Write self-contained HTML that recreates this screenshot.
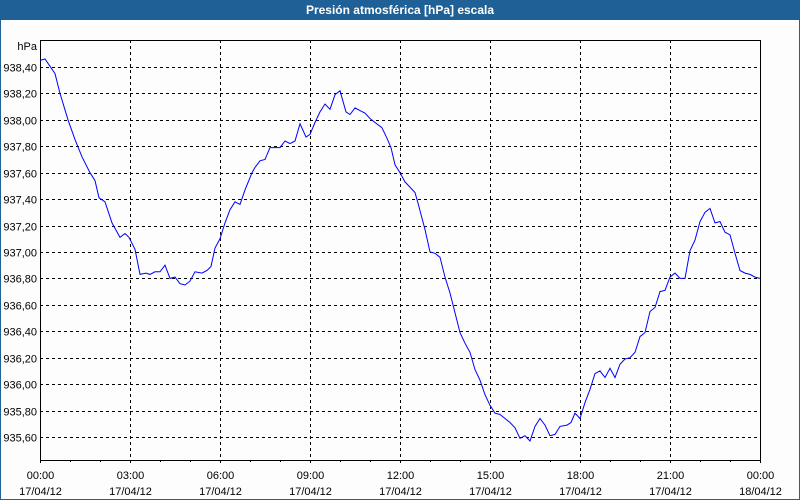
<!DOCTYPE html>
<html><head><meta charset="utf-8"><style>
html,body{margin:0;padding:0;}
body{width:800px;height:500px;overflow:hidden;background:#fcfdfc;font-family:"Liberation Sans",sans-serif;}
#wrap{position:absolute;left:0;top:0;width:798px;height:499px;border:1px solid #1f6196;border-top:none;background:#fcfdfc;}
#title{position:absolute;left:0;top:0;width:800px;height:20px;background:#1f6196;color:#fff;font-weight:bold;font-size:12px;line-height:20px;text-align:center;}
svg{position:absolute;left:0;top:0;}
</style></head><body>
<div id="wrap"></div>
<div id="title">Presión atmosférica [hPa] escala</div>
<svg id="chart" width="800" height="500"></svg>
<script>
const times=[0,10,30,40,56,70,84,100,110,118,130,144,160,170,178,190,200,212,220,230,240,250,260,270,280,290,300,310,324,334,342,350,360,370,380,390,400,410,424,430,440,450,460,480,490,500,510,520,532,540,550,560,570,580,590,600,612,620,630,640,650,660,670,684,694,702,710,720,730,750,756,770,780,790,800,810,820,830,840,850,860,870,880,890,900,910,920,930,940,950,960,970,980,990,1000,1010,1020,1030,1040,1054,1062,1070,1080,1090,1100,1110,1120,1130,1140,1150,1160,1170,1180,1190,1200,1210,1220,1230,1240,1250,1260,1270,1280,1290,1300,1310,1320,1330,1340,1350,1360,1370,1380,1390,1400,1410,1420,1430,1440];
const values=[938.45,938.46,938.35,938.20,938.00,937.85,937.72,937.60,937.54,937.41,937.38,937.22,937.11,937.14,937.11,937.02,936.83,936.84,936.83,936.85,936.85,936.90,936.80,936.81,936.76,936.75,936.78,936.85,936.84,936.86,936.89,937.03,937.10,937.22,937.32,937.38,937.36,937.47,937.60,937.64,937.69,937.70,937.79,937.79,937.84,937.82,937.84,937.97,937.87,937.89,937.98,938.06,938.12,938.08,938.19,938.22,938.06,938.04,938.09,938.07,938.05,938.01,937.98,937.94,937.86,937.79,937.66,937.60,937.53,937.45,937.37,937.17,937.00,936.99,936.96,936.81,936.69,936.54,936.39,936.31,936.24,936.11,936.03,935.92,935.84,935.78,935.77,935.74,935.71,935.67,935.59,935.61,935.57,935.68,935.74,935.69,935.61,935.62,935.68,935.69,935.71,935.78,935.74,935.86,935.96,936.08,936.10,936.05,936.12,936.05,936.15,936.19,936.20,936.24,936.36,936.39,936.55,936.58,936.70,936.71,936.81,936.84,936.80,936.80,937.01,937.09,937.23,937.30,937.33,937.22,937.23,937.15,937.13,936.99,936.86,936.84,936.83,936.81,936.80];
const yTicks=[938.40,938.20,938.00,937.80,937.60,937.40,937.20,937.00,936.80,936.60,936.40,936.20,936.00,935.80,935.60];
const xTickTimes=["00:00","03:00","06:00","09:00","12:00","15:00","18:00","21:00","00:00"];
const xTickDates=["17/04/12","17/04/12","17/04/12","17/04/12","17/04/12","17/04/12","17/04/12","17/04/12","18/04/12"];
const yMin=935.426,yMax=938.604,tMax=1440;
const L=40,R=760,T=40,B=460;
const sx=t=>L+(t/tMax)*(R-L);
const sy=v=>T+(yMax-v)/(yMax-yMin)*(B-T);
const NS="http://www.w3.org/2000/svg";
const svg=document.getElementById('chart');
function mk(tag,attrs){const e=document.createElementNS(NS,tag);for(const k in attrs)e.setAttribute(k,attrs[k]);svg.appendChild(e);return e;}
yTicks.forEach(v=>{
  const y=Math.round(sy(v))+0.5;
  const g=mk('line',{x1:L,x2:R,y1:y,y2:y,stroke:'#000','stroke-dasharray':'3,3','stroke-width':1});
  
  
  const t=mk('text',{x:37,y:y+4,'text-anchor':'end','font-size':11,fill:'#000'});
  t.textContent=v.toFixed(2).replace('.',',');
  
  
});
xTickTimes.forEach((lab,i)=>{
  const x=Math.round(sx(i*180))+0.5;
  if(i>0&&i<xTickTimes.length-1){
    const g=mk('line',{x1:x,x2:x,y1:T,y2:B,stroke:'#000','stroke-dasharray':'3,3','stroke-width':1});
    
    
  }
  const t1=mk('text',{x:x,y:479,'text-anchor':'middle','font-size':11,fill:'#000'});
  t1.textContent=lab;
  
  
  const t2=mk('text',{x:x,y:495,'text-anchor':'middle','font-size':11,fill:'#000'});
  t2.textContent=xTickDates[i];
  
  
});
for(let h=0;h<=24;h++){
  const x=Math.round(sx(h*60))+0.5;
  const tk=mk('line',{x1:x,x2:x,y1:B,y2:B+(h%3===0?3:2),stroke:'#000'});
  
  
}
const box=mk('rect',{x:L+0.5,y:T+0.5,width:R-L,height:B-T,fill:'none',stroke:'#000','stroke-width':1});


const unit=mk('text',{x:37,y:50,'text-anchor':'end','font-size':11,fill:'#000'});
unit.textContent='hPa';


const pts=times.map((t,i)=>sx(t).toFixed(1)+','+sy(values[i]).toFixed(1)).join(' ');
const line=mk('polyline',{points:pts,fill:'none',stroke:'#0000ff','stroke-width':1});


</script>
</body></html>
